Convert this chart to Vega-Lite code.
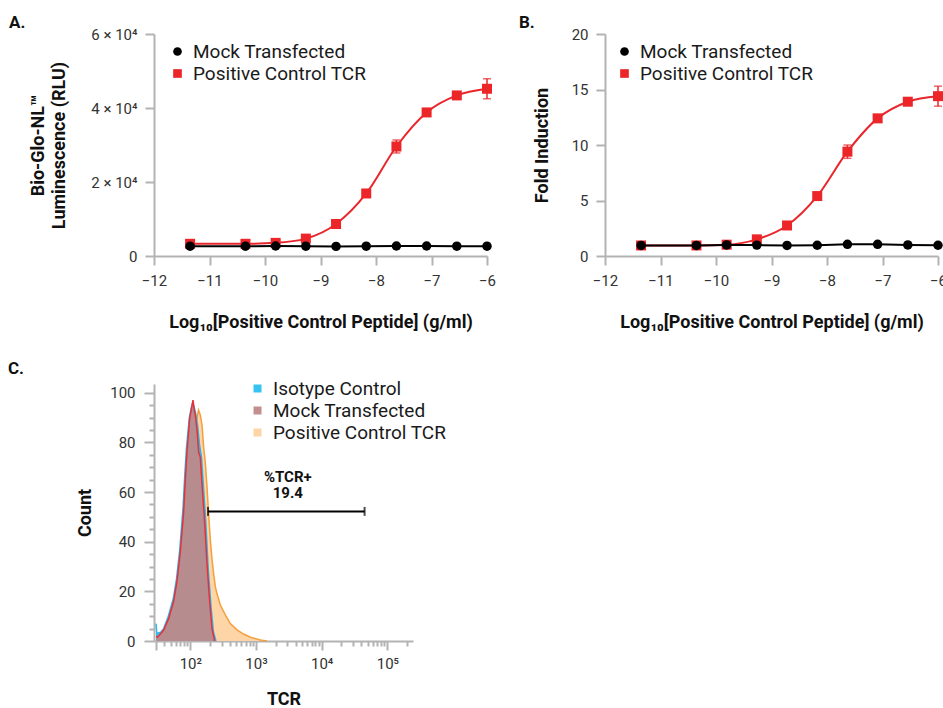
{
  "$schema": "https://vega.github.io/schema/vega-lite/v6.json",
  "background": "white",
  "padding": {"left": 8, "top": 14, "right": 0, "bottom": 0},
  "config": {
    "font": "Roboto",
    "view": {"stroke": null},
    "axis": {
      "domainColor": "#b3b3b3", "domainWidth": 2, "tickColor": "#b3b3b3", "tickWidth": 2, "tickSize": 9,
      "labelFont": "Roboto", "labelFontSize": 15, "labelColor": "#333333", "labelFlush": false, "labelOverlap": false,
      "titleFont": "Roboto", "titleFontSize": 18, "titleFontWeight": "bold", "titleColor": "#111111", "grid": false
    },
    "legend": {"labelFont": "Roboto", "labelFontSize": 19, "labelColor": "#1a1a1a", "symbolStrokeWidth": 0, "padding": 0, "labelLimit": 400},
    "title": {"font": "Roboto", "fontSize": 17, "fontWeight": "bold", "anchor": "start", "frame": "group", "color": "#111111"}
  },
  "resolve": {"scale": {"color": "independent", "shape": "independent"}, "legend": {"color": "independent", "shape": "independent"}},
  "datasets": {
    "dose": [
      {"series": "Positive Control TCR", "logConc": -11.35, "rlu": 3300, "rluSd": 300, "fold": 0.95, "foldSd": 0.08},
      {"series": "Positive Control TCR", "logConc": -10.352, "rlu": 3300, "rluSd": 300, "fold": 0.95, "foldSd": 0.08},
      {"series": "Positive Control TCR", "logConc": -9.808, "rlu": 3550, "rluSd": 300, "fold": 1.02, "foldSd": 0.08},
      {"series": "Positive Control TCR", "logConc": -9.264, "rlu": 4700, "rluSd": 400, "fold": 1.5, "foldSd": 0.12},
      {"series": "Positive Control TCR", "logConc": -8.72, "rlu": 8650, "rluSd": 500, "fold": 2.75, "foldSd": 0.15},
      {"series": "Positive Control TCR", "logConc": -8.176, "rlu": 16900, "rluSd": 700, "fold": 5.4, "foldSd": 0.25},
      {"series": "Positive Control TCR", "logConc": -7.632, "rlu": 29600, "rluSd": 1750, "fold": 9.4, "foldSd": 0.6},
      {"series": "Positive Control TCR", "logConc": -7.088, "rlu": 38800, "rluSd": 700, "fold": 12.4, "foldSd": 0.3},
      {"series": "Positive Control TCR", "logConc": -6.544, "rlu": 43400, "rluSd": 600, "fold": 13.9, "foldSd": 0.3},
      {"series": "Positive Control TCR", "logConc": -6.0, "rlu": 45200, "rluSd": 2700, "fold": 14.4, "foldSd": 0.9},
      {"series": "Mock Transfected", "logConc": -11.35, "rlu": 2650, "rluSd": 0, "fold": 0.95, "foldSd": 0},
      {"series": "Mock Transfected", "logConc": -10.352, "rlu": 2650, "rluSd": 0, "fold": 0.95, "foldSd": 0},
      {"series": "Mock Transfected", "logConc": -9.808, "rlu": 2700, "rluSd": 0, "fold": 1.0, "foldSd": 0},
      {"series": "Mock Transfected", "logConc": -9.264, "rlu": 2650, "rluSd": 0, "fold": 0.98, "foldSd": 0},
      {"series": "Mock Transfected", "logConc": -8.72, "rlu": 2600, "rluSd": 0, "fold": 0.95, "foldSd": 0},
      {"series": "Mock Transfected", "logConc": -8.176, "rlu": 2650, "rluSd": 0, "fold": 0.97, "foldSd": 0},
      {"series": "Mock Transfected", "logConc": -7.632, "rlu": 2700, "rluSd": 0, "fold": 1.05, "foldSd": 0},
      {"series": "Mock Transfected", "logConc": -7.088, "rlu": 2700, "rluSd": 0, "fold": 1.05, "foldSd": 0},
      {"series": "Mock Transfected", "logConc": -6.544, "rlu": 2650, "rluSd": 0, "fold": 1.0, "foldSd": 0},
      {"series": "Mock Transfected", "logConc": -6.0, "rlu": 2650, "rluSd": 0, "fold": 0.97, "foldSd": 0}
    ],
    "hist": [
      {"series": "Positive Control TCR", "log10_TCR": 1.48, "count": 1},
      {"series": "Positive Control TCR", "log10_TCR": 1.55, "count": 2},
      {"series": "Positive Control TCR", "log10_TCR": 1.65, "count": 4},
      {"series": "Positive Control TCR", "log10_TCR": 1.75, "count": 10},
      {"series": "Positive Control TCR", "log10_TCR": 1.8, "count": 15},
      {"series": "Positive Control TCR", "log10_TCR": 1.85, "count": 23},
      {"series": "Positive Control TCR", "log10_TCR": 1.9, "count": 34},
      {"series": "Positive Control TCR", "log10_TCR": 1.95, "count": 48},
      {"series": "Positive Control TCR", "log10_TCR": 2.0, "count": 64},
      {"series": "Positive Control TCR", "log10_TCR": 2.05, "count": 80},
      {"series": "Positive Control TCR", "log10_TCR": 2.09, "count": 88},
      {"series": "Positive Control TCR", "log10_TCR": 2.125, "count": 93},
      {"series": "Positive Control TCR", "log10_TCR": 2.152, "count": 91},
      {"series": "Positive Control TCR", "log10_TCR": 2.178, "count": 87},
      {"series": "Positive Control TCR", "log10_TCR": 2.203, "count": 78},
      {"series": "Positive Control TCR", "log10_TCR": 2.228, "count": 72},
      {"series": "Positive Control TCR", "log10_TCR": 2.254, "count": 62},
      {"series": "Positive Control TCR", "log10_TCR": 2.279, "count": 51},
      {"series": "Positive Control TCR", "log10_TCR": 2.304, "count": 41},
      {"series": "Positive Control TCR", "log10_TCR": 2.33, "count": 33},
      {"series": "Positive Control TCR", "log10_TCR": 2.355, "count": 27},
      {"series": "Positive Control TCR", "log10_TCR": 2.38, "count": 22},
      {"series": "Positive Control TCR", "log10_TCR": 2.406, "count": 19},
      {"series": "Positive Control TCR", "log10_TCR": 2.457, "count": 14.5},
      {"series": "Positive Control TCR", "log10_TCR": 2.533, "count": 10.5},
      {"series": "Positive Control TCR", "log10_TCR": 2.609, "count": 7},
      {"series": "Positive Control TCR", "log10_TCR": 2.711, "count": 4.5},
      {"series": "Positive Control TCR", "log10_TCR": 2.811, "count": 2.8},
      {"series": "Positive Control TCR", "log10_TCR": 2.913, "count": 1.5},
      {"series": "Positive Control TCR", "log10_TCR": 3.066, "count": 0.4},
      {"series": "Positive Control TCR", "log10_TCR": 3.167, "count": 0},
      {"series": "Isotype Control", "log10_TCR": 1.478, "count": 7},
      {"series": "Isotype Control", "log10_TCR": 1.49, "count": 3},
      {"series": "Isotype Control", "log10_TCR": 1.55, "count": 3.5},
      {"series": "Isotype Control", "log10_TCR": 1.594, "count": 5},
      {"series": "Isotype Control", "log10_TCR": 1.665, "count": 10},
      {"series": "Isotype Control", "log10_TCR": 1.74, "count": 17},
      {"series": "Isotype Control", "log10_TCR": 1.79, "count": 25},
      {"series": "Isotype Control", "log10_TCR": 1.84, "count": 37},
      {"series": "Isotype Control", "log10_TCR": 1.89, "count": 54},
      {"series": "Isotype Control", "log10_TCR": 1.916, "count": 67},
      {"series": "Isotype Control", "log10_TCR": 1.942, "count": 78},
      {"series": "Isotype Control", "log10_TCR": 1.985, "count": 90},
      {"series": "Isotype Control", "log10_TCR": 2.015, "count": 94},
      {"series": "Isotype Control", "log10_TCR": 2.037, "count": 96},
      {"series": "Isotype Control", "log10_TCR": 2.06, "count": 94},
      {"series": "Isotype Control", "log10_TCR": 2.08, "count": 92},
      {"series": "Isotype Control", "log10_TCR": 2.11, "count": 87},
      {"series": "Isotype Control", "log10_TCR": 2.14, "count": 79},
      {"series": "Isotype Control", "log10_TCR": 2.17, "count": 74},
      {"series": "Isotype Control", "log10_TCR": 2.2, "count": 62},
      {"series": "Isotype Control", "log10_TCR": 2.235, "count": 48},
      {"series": "Isotype Control", "log10_TCR": 2.275, "count": 28},
      {"series": "Isotype Control", "log10_TCR": 2.315, "count": 14},
      {"series": "Isotype Control", "log10_TCR": 2.35, "count": 4},
      {"series": "Isotype Control", "log10_TCR": 2.39, "count": 0},
      {"series": "Mock Transfected", "log10_TCR": 1.48, "count": 2},
      {"series": "Mock Transfected", "log10_TCR": 1.5, "count": 1.5},
      {"series": "Mock Transfected", "log10_TCR": 1.55, "count": 3},
      {"series": "Mock Transfected", "log10_TCR": 1.594, "count": 4.4},
      {"series": "Mock Transfected", "log10_TCR": 1.67, "count": 9},
      {"series": "Mock Transfected", "log10_TCR": 1.746, "count": 16},
      {"series": "Mock Transfected", "log10_TCR": 1.797, "count": 24},
      {"series": "Mock Transfected", "log10_TCR": 1.848, "count": 36},
      {"series": "Mock Transfected", "log10_TCR": 1.898, "count": 52},
      {"series": "Mock Transfected", "log10_TCR": 1.924, "count": 65},
      {"series": "Mock Transfected", "log10_TCR": 1.949, "count": 76},
      {"series": "Mock Transfected", "log10_TCR": 1.99, "count": 89.7},
      {"series": "Mock Transfected", "log10_TCR": 2.02, "count": 94},
      {"series": "Mock Transfected", "log10_TCR": 2.041, "count": 97},
      {"series": "Mock Transfected", "log10_TCR": 2.06, "count": 93},
      {"series": "Mock Transfected", "log10_TCR": 2.076, "count": 91},
      {"series": "Mock Transfected", "log10_TCR": 2.102, "count": 85},
      {"series": "Mock Transfected", "log10_TCR": 2.127, "count": 76},
      {"series": "Mock Transfected", "log10_TCR": 2.152, "count": 74},
      {"series": "Mock Transfected", "log10_TCR": 2.178, "count": 63},
      {"series": "Mock Transfected", "log10_TCR": 2.213, "count": 50},
      {"series": "Mock Transfected", "log10_TCR": 2.254, "count": 31},
      {"series": "Mock Transfected", "log10_TCR": 2.294, "count": 16},
      {"series": "Mock Transfected", "log10_TCR": 2.33, "count": 5},
      {"series": "Mock Transfected", "log10_TCR": 2.37, "count": 0}
    ],
    "gate": [
      {"log10_TCR": 2.269, "log10_TCR_end": 4.653, "count": 52.2}
    ],
    "annot": [
      {"log10_TCR": 3.484, "count": 66.2, "label": "%TCR+"},
      {"log10_TCR": 3.484, "count": 59.5, "label": "19.4"}
    ]
  },
  "columns": 2,
  "spacing": {"row": 128, "column": 118},
  "bounds": "flush",
  "concat": [
    {
      "width": 333, "height": 222,
      "title": {"text": "A.", "dx": -145, "offset": -5},
      "data": {"name": "dose"},
      "encoding": {
        "x": {"field": "logConc", "type": "quantitative", "scale": {"domain": [-12, -6], "nice": false},
          "axis": {"values": [-12, -11, -10, -9, -8, -7, -6], "title": "Log₁₀[Positive Control Peptide] (g/ml)", "labelPadding": 8, "titleY": 71, "titleBaseline": "alphabetic"}},
        "y": {"field": "rlu", "type": "quantitative", "scale": {"domain": [0, 60000], "nice": false},
          "axis": {"values": [0, 20000, 40000, 60000], "labelExpr": "datum.value == 0 ? '0' : format(datum.value / 10000, 'd') + ' × 10⁴'",
            "title": ["Bio-Glo-NL™", "Luminescence (RLU)"], "titleLineHeight": 21, "labelPadding": 8, "titlePadding": 22}}
      },
      "layer": [
        {"transform": [{"filter": "datum.series == 'Positive Control TCR'"}],
          "mark": {"type": "line", "color": "#e8262b", "strokeWidth": 2, "interpolate": "monotone"}},
        {"transform": [{"filter": "datum.series == 'Positive Control TCR'"}],
          "mark": {"type": "errorbar", "color": "#e8262b", "thickness": 1.5, "ticks": {"size": 8, "thickness": 1.5, "color": "#e8262b"}},
          "encoding": {"yError": {"field": "rluSd"}}},
        {"transform": [{"filter": "datum.series == 'Positive Control TCR'"}],
          "mark": {"type": "point", "filled": true, "opacity": 1, "size": 100},
          "encoding": {
            "color": {"field": "series", "type": "nominal", "scale": {"domain": ["Mock Transfected", "Positive Control TCR"], "range": ["#000000", "#ec2529"]},
              "legend": {"title": null, "orient": "none", "legendX": 14, "legendY": 8, "symbolSize": 75, "labelOffset": 6, "rowPadding": 2}},
            "shape": {"field": "series", "type": "nominal", "scale": {"domain": ["Mock Transfected", "Positive Control TCR"], "range": ["circle", "square"]}}
          }},
        {"transform": [{"filter": "datum.series == 'Mock Transfected'"}],
          "mark": {"type": "line", "color": "#000000", "strokeWidth": 2}},
        {"transform": [{"filter": "datum.series == 'Mock Transfected'"}],
          "mark": {"type": "point", "filled": true, "opacity": 1, "size": 90},
          "encoding": {
            "color": {"field": "series", "type": "nominal", "scale": {"domain": ["Mock Transfected", "Positive Control TCR"], "range": ["#000000", "#ec2529"]},
              "legend": {"title": null, "orient": "none", "legendX": 14, "legendY": 8, "symbolSize": 75, "labelOffset": 6, "rowPadding": 2}},
            "shape": {"field": "series", "type": "nominal", "scale": {"domain": ["Mock Transfected", "Positive Control TCR"], "range": ["circle", "square"]}}
          }}
      ]
    },
    {
      "width": 333, "height": 222,
      "title": {"text": "B.", "dx": -86, "offset": -5},
      "data": {"name": "dose"},
      "encoding": {
        "x": {"field": "logConc", "type": "quantitative", "scale": {"domain": [-12, -6], "nice": false},
          "axis": {"values": [-12, -11, -10, -9, -8, -7, -6], "title": "Log₁₀[Positive Control Peptide] (g/ml)", "labelPadding": 8, "titleY": 71, "titleBaseline": "alphabetic"}},
        "y": {"field": "fold", "type": "quantitative", "scale": {"domain": [0, 20], "nice": false},
          "axis": {"values": [0, 5, 10, 15, 20], "title": "Fold Induction", "labelPadding": 8, "titlePadding": 20}}
      },
      "layer": [
        {"transform": [{"filter": "datum.series == 'Positive Control TCR'"}],
          "mark": {"type": "line", "color": "#e8262b", "strokeWidth": 2, "interpolate": "monotone"}},
        {"transform": [{"filter": "datum.series == 'Positive Control TCR'"}],
          "mark": {"type": "errorbar", "color": "#e8262b", "thickness": 1.5, "ticks": {"size": 8, "thickness": 1.5, "color": "#e8262b"}},
          "encoding": {"yError": {"field": "foldSd"}}},
        {"transform": [{"filter": "datum.series == 'Positive Control TCR'"}],
          "mark": {"type": "point", "filled": true, "opacity": 1, "size": 100},
          "encoding": {
            "color": {"field": "series", "type": "nominal", "scale": {"domain": ["Mock Transfected", "Positive Control TCR"], "range": ["#000000", "#ec2529"]},
              "legend": {"title": null, "orient": "none", "legendX": 10, "legendY": 8, "symbolSize": 75, "labelOffset": 6, "rowPadding": 2}},
            "shape": {"field": "series", "type": "nominal", "scale": {"domain": ["Mock Transfected", "Positive Control TCR"], "range": ["circle", "square"]}}
          }},
        {"transform": [{"filter": "datum.series == 'Mock Transfected'"}],
          "mark": {"type": "line", "color": "#000000", "strokeWidth": 2}},
        {"transform": [{"filter": "datum.series == 'Mock Transfected'"}],
          "mark": {"type": "point", "filled": true, "opacity": 1, "size": 90},
          "encoding": {
            "color": {"field": "series", "type": "nominal", "scale": {"domain": ["Mock Transfected", "Positive Control TCR"], "range": ["#000000", "#ec2529"]},
              "legend": {"title": null, "orient": "none", "legendX": 10, "legendY": 8, "symbolSize": 75, "labelOffset": 6, "rowPadding": 2}},
            "shape": {"field": "series", "type": "nominal", "scale": {"domain": ["Mock Transfected", "Positive Control TCR"], "range": ["circle", "square"]}}
          }}
      ]
    },
    {
      "width": 259, "height": 257,
      "title": {"text": "C.", "dx": -146, "offset": 6},
      "encoding": {
        "x": {"field": "log10_TCR", "type": "quantitative", "scale": {"domain": [1.447, 5.39], "nice": false, "zero": false},
          "axis": {"values": [1.4771, 1.6021, 1.699, 1.7782, 1.8451, 1.9031, 1.9542, 2, 2.301, 2.4771, 2.6021, 2.699, 2.7782, 2.8451, 2.9031, 2.9542, 3, 3.301, 3.4771, 3.6021, 3.699, 3.7782, 3.8451, 3.9031, 3.9542, 4, 4.301, 4.4771, 4.6021, 4.699, 4.7782, 4.8451, 4.9031, 4.9542, 5, 5.301],
            "labelExpr": "datum.value == 2 ? '10²' : datum.value == 3 ? '10³' : datum.value == 4 ? '10⁴' : datum.value == 5 ? '10⁵' : ''",
            "tickSize": {"condition": {"test": "datum.value == 2 || datum.value == 3 || datum.value == 4 || datum.value == 5 || datum.value < 1.5", "value": 9}, "value": 5},
            "title": "TCR", "labelPadding": 6, "titleY": 63, "titleBaseline": "alphabetic"}},
        "y": {"field": "count", "type": "quantitative", "scale": {"domain": [0, 103.5], "nice": false},
          "axis": {"values": [0, 5, 10, 15, 20, 25, 30, 35, 40, 45, 50, 55, 60, 65, 70, 75, 80, 85, 90, 95, 100],
            "labelExpr": "datum.value % 20 == 0 ? datum.label : ''",
            "tickSize": {"condition": {"test": "datum.value % 20 == 0", "value": 10}, "value": 5},
            "title": "Count", "labelPadding": 9, "titlePadding": 15}}
      },
      "layer": [
        {"data": {"name": "hist"}, "transform": [{"filter": "datum.series == 'Positive Control TCR'"}],
          "mark": {"type": "area", "fillOpacity": 1},
          "encoding": {"fill": {"field": "series", "type": "nominal",
            "scale": {"domain": ["Isotype Control", "Mock Transfected", "Positive Control TCR"], "range": ["#36c3f1", "#c48e8e", "#fdd5a7"]},
            "legend": {"title": null, "orient": "none", "legendX": 94, "legendY": 345, "symbolType": "square", "symbolSize": 64, "symbolOpacity": 1, "labelOffset": 6, "rowPadding": 2}}}},
        {"data": {"name": "hist"}, "transform": [{"filter": "datum.series == 'Positive Control TCR'"}],
          "mark": {"type": "line", "color": "#f59f3c", "strokeWidth": 1.5}},
        {"data": {"name": "hist"}, "transform": [{"filter": "datum.series == 'Isotype Control'"}],
          "mark": {"type": "area", "fillOpacity": 1},
          "encoding": {"fill": {"field": "series", "type": "nominal",
            "scale": {"domain": ["Isotype Control", "Mock Transfected", "Positive Control TCR"], "range": ["#36c3f1", "#c48e8e", "#fdd5a7"]},
            "legend": {"title": null, "orient": "none", "legendX": 94, "legendY": 345, "symbolType": "square", "symbolSize": 64, "symbolOpacity": 1, "labelOffset": 6, "rowPadding": 2}}}},
        {"data": {"name": "hist"}, "transform": [{"filter": "datum.series == 'Isotype Control'"}],
          "mark": {"type": "line", "color": "#2bb5e8", "strokeWidth": 1.5}},
        {"data": {"name": "hist"}, "transform": [{"filter": "datum.series == 'Mock Transfected'"}],
          "mark": {"type": "area", "color": "#c48683", "fillOpacity": 0.9}},
        {"data": {"name": "hist"}, "transform": [{"filter": "datum.series == 'Mock Transfected'"}],
          "mark": {"type": "line", "color": "#e8303a", "strokeWidth": 1.5}},
        {"data": {"name": "gate"},
          "mark": {"type": "errorbar", "color": "#000000", "thickness": 2, "ticks": {"size": 9, "thickness": 2, "color": "#000000"}},
          "encoding": {"x2": {"field": "log10_TCR_end"}}},
        {"data": {"name": "annot"},
          "mark": {"type": "text", "font": "Roboto", "fontSize": 15, "fontWeight": "bold", "color": "#111111", "align": "center", "baseline": "middle"},
          "encoding": {"text": {"field": "label"}}}
      ]
    }
  ]
}
